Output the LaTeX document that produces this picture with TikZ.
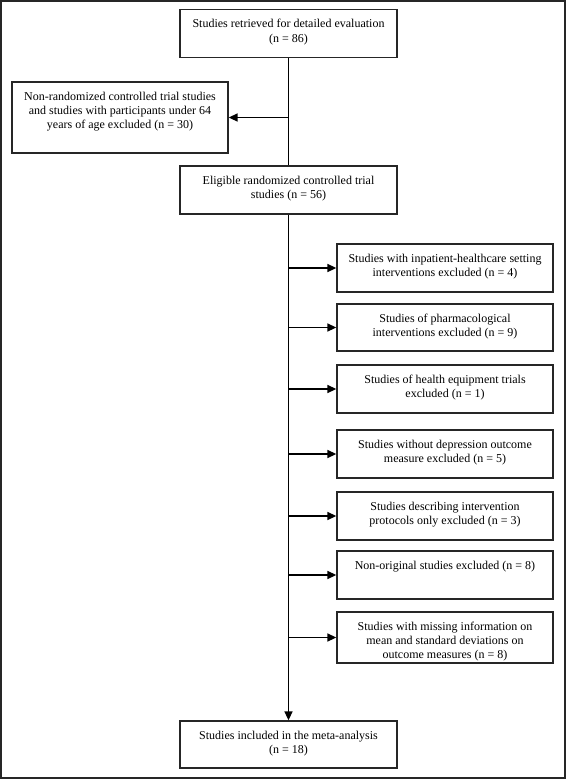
\documentclass[tikz,border=0pt]{standalone}
\usepackage{fontspec}
\setmainfont{Liberation Serif}
\usetikzlibrary{arrows.meta}
\begin{document}
\begin{tikzpicture}[x=1pt,y=-1pt,
  box/.style={draw=black!85,line width=1.3pt,rectangle,inner sep=0pt,minimum width=217pt,minimum height=48pt},
  txt/.style={anchor=north,align=center,inner sep=0pt,font=\fontsize{12pt}{14.2pt}\selectfont},
  conn/.style={line width=1.5pt,black},
  arr/.style={conn,-{Triangle[length=9pt,width=8pt]}}]
\useasboundingbox (0,0) rectangle (566,779);
\draw[line width=2pt,black!85] (1,1) rectangle (565,778);
% boxes
\node[box] (top) at (288.5,33.5) {};
\node[box,minimum width=216pt,minimum height=71pt] (left) at (120,117.5) {};
\node[box] (elig) at (288.5,190) {};
\node[box,minimum width=216pt] (r1) at (445,268) {};
\node[box,minimum width=216pt,minimum height=47pt] (r2) at (445,327.5) {};
\node[box,minimum width=216pt] (r3) at (445,389) {};
\node[box,minimum width=216pt] (r4) at (445,454) {};
\node[box,minimum width=216pt] (r5) at (445,516) {};
\node[box,minimum width=216pt] (r6) at (445,575) {};
\node[box,minimum width=216pt,minimum height=51pt] (r7) at (445,637.5) {};
\node[box,minimum height=47pt] (bot) at (288.5,744.5) {};
% texts
\node[txt] (ttop) at ([yshift=-10.5pt]top.north) {Studies retrieved for detailed evaluation\\(n = 86)};
\node[txt] (tleft) at ([yshift=-10.5pt]left.north) {Non-randomized controlled trial studies\\and studies with participants under 64\\years of age excluded (n = 30)};
\node[txt] (telig) at ([yshift=-10.5pt]elig.north) {Eligible randomized controlled trial\\studies (n = 56)};
\node[txt] (tr1) at ([yshift=-10.5pt]r1.north) {Studies with inpatient-healthcare setting\\interventions excluded (n = 4)};
\node[txt] (tr2) at ([yshift=-10.5pt]r2.north) {Studies of pharmacological\\interventions excluded (n = 9)};
\node[txt] (tr3) at ([yshift=-10.5pt]r3.north) {Studies of health equipment trials\\excluded (n = 1)};
\node[txt] (tr4) at ([yshift=-10.5pt]r4.north) {Studies without depression outcome\\measure excluded (n = 5)};
\node[txt] (tr5) at ([yshift=-10.5pt]r5.north) {Studies describing intervention\\protocols only excluded (n = 3)};
\node[txt] (tr6) at ([yshift=-10.5pt]r6.north) {Non-original studies excluded (n = 8)};
\node[txt] (tr7) at ([yshift=-10.5pt]r7.north) {Studies with missing information on\\mean and standard deviations on\\outcome measures (n = 8)};
\node[txt] (tbot) at ([yshift=-10.5pt]bot.north) {Studies included in the meta-analysis\\(n = 18)};
% connectors
\draw[conn] (top.south) -- (elig.north);
\draw[arr] (top.south |- left.east) -- (left.east);
\draw[arr] (elig.south) -- (bot.north);
\foreach \r in {r1,r2,r3,r4,r5,r6,r7}{
  \draw[arr] (elig.south |- \r.west) -- (\r.west);
}
\end{tikzpicture}
\end{document}
